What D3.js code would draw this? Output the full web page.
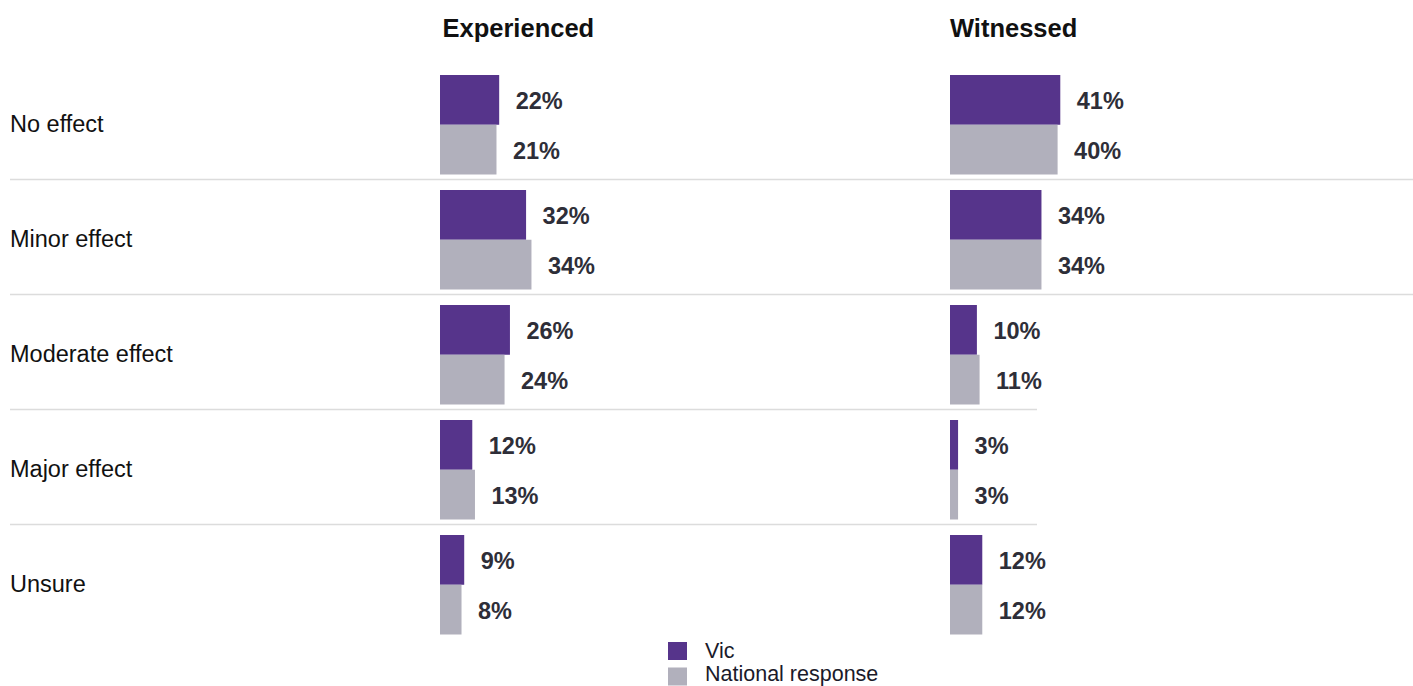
<!DOCTYPE html>
<html>
<head>
<meta charset="utf-8">
<script src="https://cdn.jsdelivr.net/npm/d3@7"></script>
<style>
  html, body { margin: 0; padding: 0; background: #ffffff; }
  svg { display: block; font-family: "Liberation Sans", Arial, sans-serif; }
</style>
</head>
<body>
<svg id="chart" width="1413" height="686"></svg>
<script>
// Impact categories (rows) and the two response groups
const categories = ["No effect", "Minor effect", "Moderate effect", "Major effect", "Unsure"];
const panelTitles = ["Experienced", "Witnessed"];
const seriesNames = ["Vic", "National response"];

// Percent of respondents per category
const experiencedVic = [22, 32, 26, 12, 9];
const experiencedNational = [21, 34, 24, 13, 8];
const witnessedVic = [41, 34, 10, 3, 12];
const witnessedNational = [40, 34, 11, 3, 12];

const colors = { "Vic": "#56348b", "National response": "#b1b0bc" };

const svg = d3.select("#chart");

// Row bands
const y = d3.scaleBand().domain(categories).range([65, 640]).paddingInner(0).paddingOuter(0);
const barPad = 10;
const barH = (y.bandwidth() - barPad - 5.5) / 2;

// Value -> bar length
const x = d3.scaleLinear().domain([0, 100]).range([0, 269]);

const panels = [
  { title: panelTitles[0], x0: 440, titleDx: 2.5, vic: experiencedVic, nat: experiencedNational },
  { title: panelTitles[1], x0: 950, titleDx: 0, vic: witnessedVic, nat: witnessedNational }
];

// Row separators (right end differs per row)
const sepEnds = [1413, 1413, 1037, 1037];
svg.append("g").selectAll("line")
  .data(categories.slice(0, -1))
  .join("line")
  .attr("x1", 10)
  .attr("x2", (d, i) => sepEnds[i])
  .attr("y1", d => y(d) + y.bandwidth() - 0.5)
  .attr("y2", d => y(d) + y.bandwidth() - 0.5)
  .attr("stroke", "#dcdcdc")
  .attr("stroke-width", 1.5);

// Category labels
svg.append("g").selectAll("text")
  .data(categories)
  .join("text")
  .attr("x", 10)
  .attr("y", d => y(d) + barPad + barH + 7)
  .attr("font-size", 23.5)
  .attr("fill", "#111111")
  .text(d => d);

panels.forEach(p => {
  const g = svg.append("g").attr("transform", `translate(${p.x0},0)`);

  g.append("text")
    .attr("x", p.titleDx)
    .attr("y", 37)
    .attr("font-size", 25.5)
    .attr("font-weight", "bold")
    .attr("fill", "#111111")
    .text(p.title);

  const rows = categories.map((c, i) => [
    { cat: c, series: seriesNames[0], value: p.vic[i], k: 0 },
    { cat: c, series: seriesNames[1], value: p.nat[i], k: 1 }
  ]).flat();

  g.selectAll("rect")
    .data(rows)
    .join("rect")
    .attr("x", 0)
    .attr("y", d => y(d.cat) + barPad + d.k * barH)
    .attr("width", d => x(d.value))
    .attr("height", barH)
    .attr("fill", d => colors[d.series]);

  g.selectAll("text.val")
    .data(rows)
    .join("text")
    .attr("class", "val")
    .attr("x", d => x(d.value) + 16.5)
    .attr("y", d => y(d.cat) + barPad + d.k * barH + barH / 2 + 9.5)
    .attr("font-size", 23.5)
    .attr("font-weight", "bold")
    .attr("fill", "#2e2e38")
    .text(d => d.value + "%");
});

// Legend
const legend = svg.append("g").attr("transform", "translate(668,0)");
seriesNames.forEach((s, i) => {
  legend.append("rect")
    .attr("x", 0)
    .attr("y", 642 + i * 25.5)
    .attr("width", 19)
    .attr("height", 18)
    .attr("fill", colors[s]);
  legend.append("text")
    .attr("x", 37)
    .attr("y", 658 + i * 23)
    .attr("font-size", 21.5)
    .attr("fill", "#1a1a2a")
    .text(s);
});
</script>
</body>
</html>
